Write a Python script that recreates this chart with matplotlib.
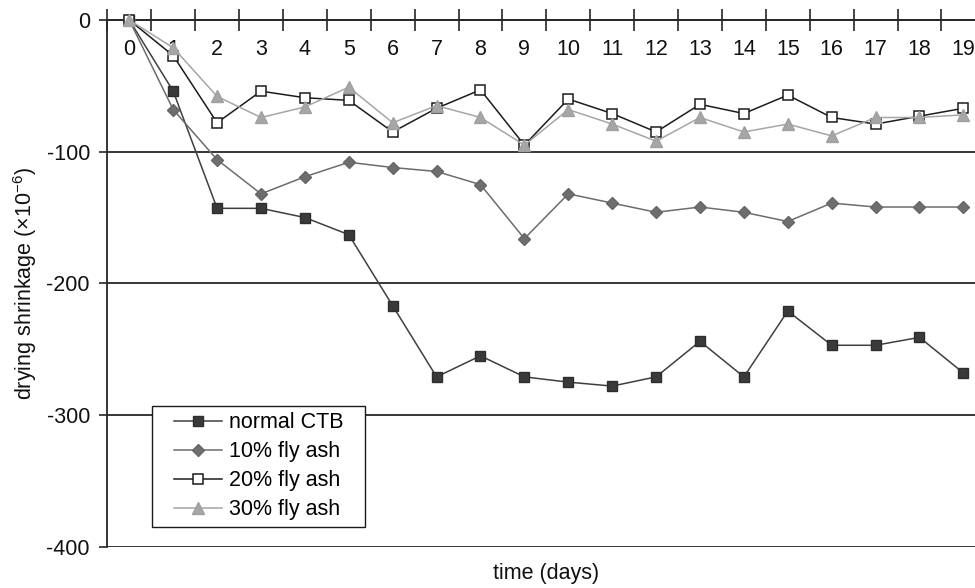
import matplotlib
matplotlib.use("Agg")
import matplotlib.pyplot as plt
from matplotlib.path import Path

# Drying shrinkage (x10^-6) per day
days = list(range(20))
day_labels = [str(d) for d in days]

normal_ctb = [0, -54, -143, -143, -150, -163, -217, -271, -255, -271,
              -275, -278, -271, -244, -271, -221, -247, -247, -241, -268]
fly_ash_10 = [0, -68, -106, -132, -119, -108, -112, -115, -125, -166,
              -132, -139, -146, -142, -146, -153, -139, -142, -142, -142]
fly_ash_20 = [0, -27, -78, -54, -59, -61, -85, -67, -53, -95,
              -60, -71, -85, -64, -71, -57, -74, -79, -73, -67]
fly_ash_30 = [0, -21, -58, -74, -66, -51, -78, -65, -74, -95,
              -68, -79, -92, -74, -85, -79, -88, -74, -74, -72]

y_ticks = [-400, -300, -200, -100, 0]

plt.rcParams['font.family'] = ['Liberation Sans', 'DejaVu Sans']
plt.rcParams['axes.unicode_minus'] = False
plt.rcParams['mathtext.fontset'] = 'custom'
plt.rcParams['mathtext.rm'] = 'Liberation Sans'
plt.rcParams['mathtext.it'] = 'Liberation Sans:italic'
plt.rcParams['mathtext.default'] = 'regular'

FS = 15.5
AXIS_COL = '#262626'


# legend frame that is wider than it is tall (as in the original)
def legend_box(x0, y0, width, height, mutation_size):
    dx = 0.72 * mutation_size
    return Path([(x0 - dx, y0), (x0 + width + dx, y0), (x0 + width + dx, y0 + height),
                 (x0 - dx, y0 + height), (x0 - dx, y0)], closed=True)


def main():
    fig = plt.figure(figsize=(9.75, 5.88), dpi=100)
    ax = fig.add_axes([0.1101, 0.0702, 0.9005, 0.8957])

    ax.plot(days, normal_ctb, color='#3f3f3f', lw=1.1, marker='s', ms=7,
            mfc='#3a3a3a', mec='#2e2e2e', label='normal CTB', clip_on=False, zorder=3)
    ax.plot(days, fly_ash_10, color='#6c6c6c', lw=1.1, marker='D', ms=6.5,
            mfc='#6e6e6e', mec='#666666', label='10% fly ash', clip_on=False, zorder=3)
    ax.plot(days, fly_ash_20, color='#1c1c1c', lw=1.1, marker='s', ms=6.5,
            mfc='white', mec='#1c1c1c', mew=1.1, label='20% fly ash', clip_on=False, zorder=3)
    ax.plot(days, fly_ash_30, color='#a6a6a6', lw=1.1, marker='^', ms=8.5,
            mfc='#a6a6a6', mec='#a0a0a0', label='30% fly ash', clip_on=False, zorder=3)

    ax.set_xlim(days[0] - 0.5, days[-1] + 0.5)
    ax.set_ylim(y_ticks[0], y_ticks[-1])

    # category axis: tick marks between days, labels on days
    ax.set_xticks([d - 0.5 for d in days] + [days[-1] + 0.5])
    ax.set_xticks(days, minor=True)
    ax.set_xticklabels(day_labels, minor=True)
    ax.tick_params(axis='x', which='major', labelbottom=False, direction='inout',
                   length=16, width=1.2, color=AXIS_COL)
    ax.tick_params(axis='x', which='minor', length=0, pad=13.5, labelsize=FS,
                   labelcolor='#111111')

    ax.set_yticks(y_ticks)
    ax.set_yticklabels([str(v) for v in y_ticks])
    ax.tick_params(axis='y', direction='out', length=6, width=1.2, pad=6.5,
                   labelsize=FS, color=AXIS_COL, labelcolor='#111111')
    ax.yaxis.grid(True, color=AXIS_COL, lw=1.3)
    ax.set_axisbelow(True)

    for side in ['top', 'right']:
        ax.spines[side].set_visible(False)
    ax.spines['bottom'].set_position(('data', 0))
    ax.spines['bottom'].set_color(AXIS_COL)
    ax.spines['bottom'].set_linewidth(1.4)
    ax.spines['left'].set_color(AXIS_COL)
    ax.spines['left'].set_linewidth(1.3)

    ax.set_ylabel('drying shrinkage (×10$^{-6}$)', fontsize=FS, color='#111111')
    ax.yaxis.set_label_coords(-0.0775, 0.5)
    ax.set_xlabel('time (days)', fontsize=FS, color='#111111')
    ax.xaxis.set_label_coords(0.5, -0.031)

    leg = ax.legend(loc='lower left', bbox_to_anchor=(0.0683, 0.038), fontsize=FS,
                    frameon=True, fancybox=False, framealpha=1, edgecolor='#1a1a1a',
                    borderpad=0.3, borderaxespad=0, handlelength=2.25,
                    handletextpad=0.3, labelspacing=0.37)
    leg.get_frame().set_linewidth(1.0)
    leg.get_frame().set_boxstyle(legend_box)

    fig.savefig('out.png', dpi=100)


if __name__ == '__main__':
    main()
